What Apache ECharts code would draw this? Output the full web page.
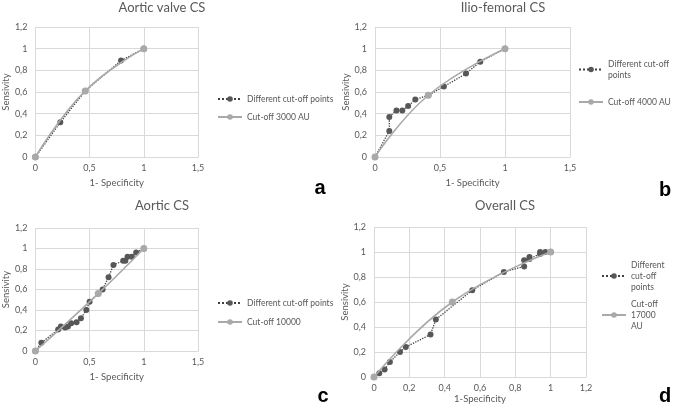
<!DOCTYPE html>
<html>
<head>
<meta charset="utf-8">
<script src="https://cdn.jsdelivr.net/npm/echarts@6/dist/echarts.min.js"></script>
<style>html,body{margin:0;padding:0;background:#fff}#c{width:676px;height:407px}</style>
</head>
<body>
<div id="c"></div>
<script>
// ---- data ----
var titles = ['Aortic valve CS', 'Ilio-femoral CS', 'Aortic CS', 'Overall CS'];
var panelLetters = ['a', 'b', 'c', 'd'];
var diffName = 'Different cut-off points';
var cutNames = ['Cut-off 3000 AU', 'Cut-off 4000 AU', 'Cut-off 10000', 'Cut-off 17000 AU'];
var xAxisNames = ['1- Specificity', '1- Specificity', '1- Specificity', '1-Specificity'];
var xMax = [1.5, 1.5, 1.5, 1.2];
var xInterval = [0.5, 0.5, 0.5, 0.2];

var aorticValveDiff = [[0,0],[0.23,0.32],[0.46,0.61],[0.79,0.89],[1,1]];
var aorticValveCut = [[0,0],[0.46,0.61],[1,1]];

var ilioDiff = [[0,0],[0.11,0.24],[0.11,0.37],[0.165,0.43],[0.21,0.43],[0.255,0.47],[0.31,0.53],[0.41,0.57],[0.53,0.65],[0.70,0.77],[0.81,0.88],[1,1]];
var ilioCut = [[0,0],[0.41,0.57],[1,1]];

var aorticDiff = [[0,0],[0.055,0.08],[0.21,0.21],[0.235,0.24],[0.275,0.23],[0.30,0.24],[0.33,0.27],[0.38,0.28],[0.42,0.32],[0.47,0.40],[0.50,0.48],[0.58,0.56],[0.62,0.60],[0.675,0.72],[0.72,0.84],[0.81,0.88],[0.83,0.88],[0.85,0.92],[0.89,0.92],[0.93,0.96],[1,1]];
var aorticCut = [[0,0],[0.58,0.56],[1,1]];

var overallDiff = [[0,0],[0.03,0.03],[0.06,0.06],[0.09,0.12],[0.147,0.20],[0.18,0.24],[0.32,0.34],[0.35,0.46],[0.556,0.695],[0.735,0.84],[0.85,0.885],[0.85,0.935],[0.88,0.945],[0.88,0.96],[0.94,0.985],[0.94,1.0],[0.97,1.0],[1,1]];
var overallCut = [[0,0],[0.443,0.60],[1,1]];

var diffData = [aorticValveDiff, ilioDiff, aorticDiff, overallDiff];
var cutData = [aorticValveCut, ilioCut, aorticCut, overallCut];

// ---- layout ----
var grids = [
  {left: 33, top: 27, width: 165, height: 130},
  {left: 375, top: 27, width: 195, height: 130},
  {left: 33, top: 228, width: 165, height: 123},
  {left: 374, top: 227, width: 212, height: 150}
];
var titlePos = [[162, 8], [503, 8], [162, 206], [505, 206]];
var letterPos = [[320, 188], [665, 190], [323, 396], [665, 396]];
var legendPos = [
  {left: 217, top: 93.5},
  {left: 578, top: 58.5},
  {left: 217, top: 297.5},
  {left: 601, top: 259.5}
];
var legendFmt = [
  function (n) { return n; },
  function (n) { return n === diffName ? 'Different cut-off\npoints' : n; },
  function (n) { return n; },
  function (n) { return n === diffName ? 'Different\ncut-off\npoints' : 'Cut-off\n17000\nAU'; }
];
var legendGap = [7, 16, 8, 6];

var FONT = 'Lato, "Open Sans", sans-serif';
var TXT = '#595959';
var GRID = '#d9d9d9';
function fmt(v) { return (Math.round(v * 10) / 10).toString().replace('.', ','); }

var option = {
  animation: false,
  textStyle: {fontFamily: FONT},
  grid: grids.map(function (g) { return Object.assign({containLabel: false}, g); }),
  xAxis: grids.map(function (g, i) {
    return {
      type: 'value', gridIndex: i, min: 0, max: xMax[i], interval: xInterval[i],
      name: xAxisNames[i], nameLocation: 'middle', nameGap: i === 3 ? 17 : 21,
      nameTextStyle: {color: TXT, fontSize: 9.5, fontFamily: FONT},
      axisLine: {lineStyle: {color: GRID}},
      axisTick: {show: false},
      axisLabel: {color: TXT, fontSize: 9, formatter: fmt, margin: 7},
      splitLine: {show: true, lineStyle: {color: GRID}}
    };
  }),
  yAxis: grids.map(function (g, i) {
    return {
      type: 'value', gridIndex: i, min: 0, max: 1.2, interval: 0.2,
      name: 'Sensivity', nameLocation: 'middle', nameGap: 23,
      nameTextStyle: {color: TXT, fontSize: 9.5, fontFamily: FONT},
      axisLine: {show: false},
      axisTick: {show: false},
      axisLabel: {color: TXT, fontSize: 9, formatter: fmt, margin: 8},
      splitLine: {show: true, lineStyle: {color: GRID}}
    };
  }),
  legend: legendPos.map(function (p, i) {
    return {
      orient: 'vertical', left: p.left, top: p.top, padding: 0,
      data: [diffName, cutNames[i]],
      formatter: legendFmt[i],
      itemWidth: 24, itemHeight: 7, itemGap: legendGap[i],
      selectedMode: false,
      textStyle: {color: TXT, fontSize: 8.5, fontFamily: FONT, lineHeight: 11}
    };
  }),
  series: [],
  graphic: []
};

for (var i = 0; i < 4; i++) {
  option.series.push({
    name: diffName, type: 'line', xAxisIndex: i, yAxisIndex: i,
    data: diffData[i], symbol: 'circle', symbolSize: 6,
    itemStyle: {color: '#575757'},
    lineStyle: {color: '#404040', type: 'dotted', width: 1.3},
    z: 2
  });
  option.series.push({
    name: cutNames[i], type: 'line', xAxisIndex: i, yAxisIndex: i,
    data: cutData[i], symbol: 'circle', symbolSize: 7, smooth: 0.45,
    itemStyle: {color: '#a9a9a9'},
    lineStyle: {color: '#a9a9a9', width: 1.6},
    z: 3
  });
  option.graphic.push({
    type: 'text', x: titlePos[i][0], y: titlePos[i][1],
    style: {text: titles[i], fill: TXT, font: '13px ' + FONT, align: 'center', verticalAlign: 'middle'}
  });
  option.graphic.push({
    type: 'text', x: letterPos[i][0], y: letterPos[i][1],
    style: {text: panelLetters[i], fill: '#000', font: 'bold 20px "Liberation Sans", Arial, sans-serif', align: 'center', verticalAlign: 'middle'}
  });
}

var chart = echarts.init(document.getElementById('c'));
chart.setOption(option);
</script>
</body>
</html>
